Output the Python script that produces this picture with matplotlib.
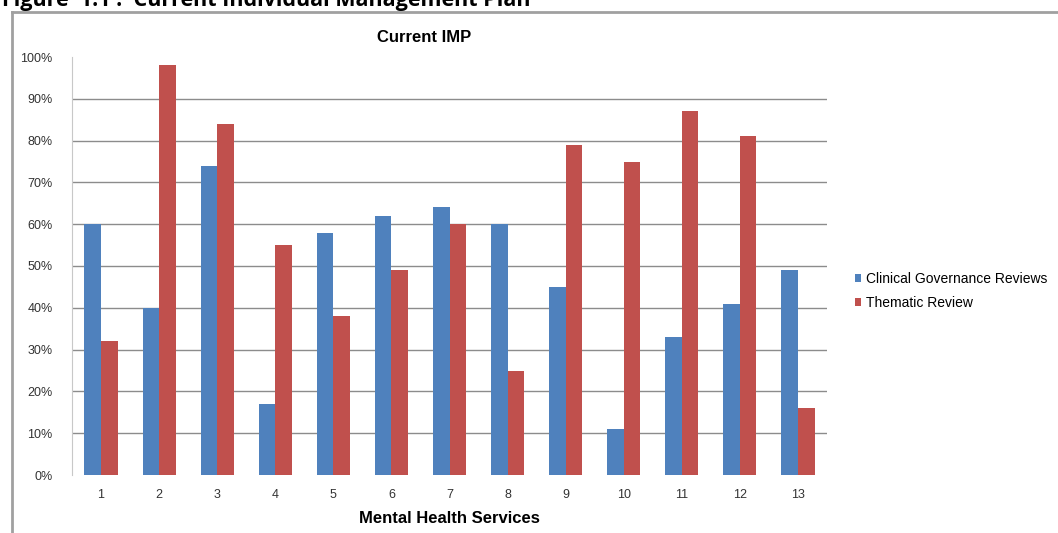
import numpy as np
import matplotlib.pyplot as plt
from matplotlib.lines import Line2D
from matplotlib.ticker import PercentFormatter

plt.rcParams['font.family'] = ['Liberation Sans', 'DejaVu Sans']

# data
services = ['1', '2', '3', '4', '5', '6', '7', '8', '9', '10', '11', '12', '13']
clinical_governance = [60, 40, 74, 17, 58, 62, 64, 60, 45, 11, 33, 41, 49]
thematic_review = [32, 98, 84, 55, 38, 49, 60, 25, 79, 75, 87, 81, 16]

blue = '#4F81BD'
red = '#C0504D'
W, H = 1058, 533

fig = plt.figure(figsize=(W / 100, H / 100), dpi=100)
ax = fig.add_axes([72 / W, 1 - 475 / H, (827 - 72) / W, (475 - 57) / H])

x = np.arange(len(services))
bw = 0.285
ax.bar(x - bw / 2, clinical_governance, bw, color=blue, label='Clinical Governance Reviews', zorder=3)
ax.bar(x + bw / 2, thematic_review, bw, color=red, label='Thematic Review', zorder=3)

ax.set_xlim(-0.5, len(services) - 0.5)
ax.set_ylim(0, 100)
ax.set_yticks(range(0, 101, 10))
ax.yaxis.set_major_formatter(PercentFormatter(decimals=0))
ax.set_xticks(x)
ax.set_xticklabels(services)
for y in range(10, 100, 10):
    ax.axhline(y, color='#8c8c8c', lw=1, zorder=1)

for s in ['top', 'right', 'bottom']:
    ax.spines[s].set_visible(False)
ax.spines['left'].set_color('#c8c8c8')
ax.tick_params(axis='both', length=0, labelsize=9, colors='#333333', pad=10)
ax.tick_params(axis='y', pad=14)

ax.set_xlabel('Mental Health Services', fontsize=12, fontweight='bold', labelpad=7)
fig.text(424 / W, 1 - 37 / H, 'Current IMP', ha='center', va='center',
         fontsize=12, fontweight='bold')

ax.legend(loc='center left', bbox_to_anchor=(842 / W, 1 - 291 / H),
          bbox_transform=fig.transFigure, frameon=False, fontsize=10,
          handlelength=0.5, handleheight=0.5, handletextpad=0.3, labelspacing=0.75)

# figure caption, cut off at the top edge of the image as in the source
fig.text(2 / W, 1 - 6 / H, 'Figure  1.1 :  Current Individual Management Plan',
         ha='left', va='baseline', fontsize=15.5, fontweight='bold', family='Open Sans')

# chart frame (left and top edges)
fig.add_artist(Line2D([11.5 / W, 11.5 / W], [0, 1 - 11.5 / H], color='#a0a0a0', lw=2))
fig.add_artist(Line2D([11.5 / W, 1], [1 - 11.5 / H, 1 - 11.5 / H], color='#a0a0a0', lw=2))

fig.savefig('out.png', dpi=100)
